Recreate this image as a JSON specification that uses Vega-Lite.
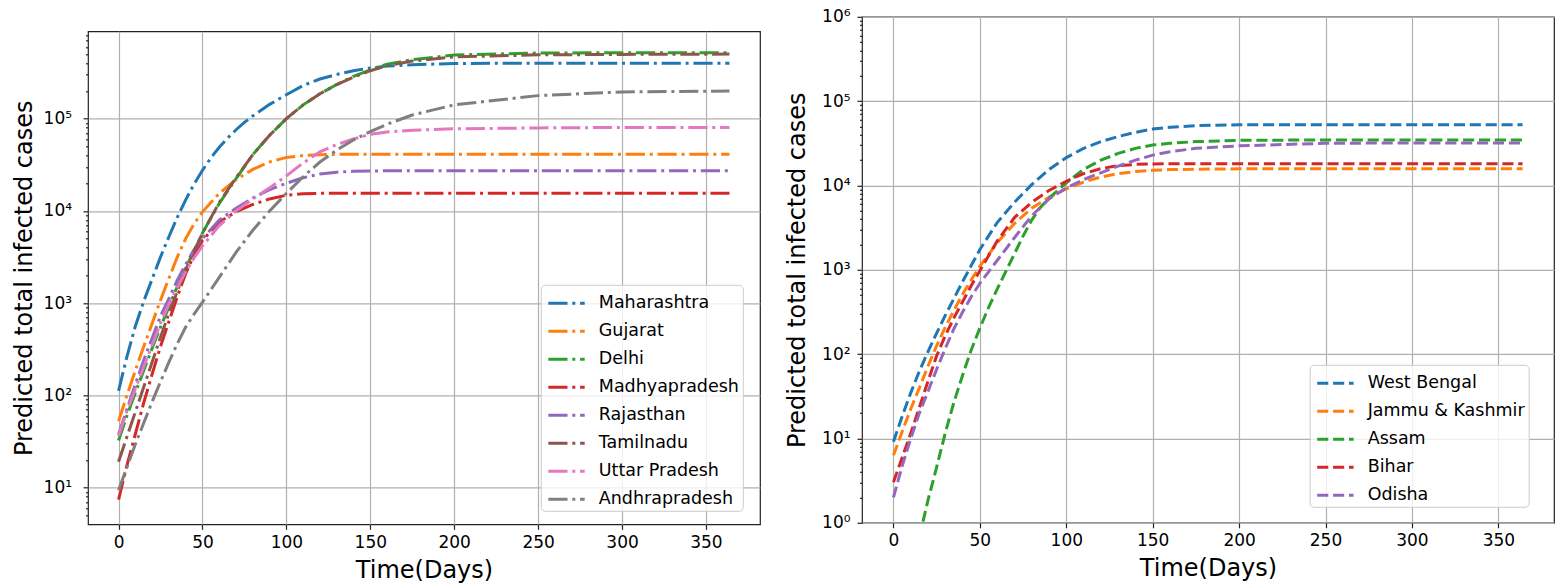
{
  "$schema": "https://vega.github.io/schema/vega-lite/v6.json",
  "background": "white",
  "padding": {"left": 11, "top": 6.8, "right": 0, "bottom": 0},
  "config": {
    "font": "DejaVu Sans",
    "view": {"stroke": "#222", "strokeWidth": 1.2},
    "axis": {"grid": true, "gridColor": "#b0b0b0", "gridWidth": 1.2, "domain": false, "tickColor": "#222", "tickWidth": 1.2, "tickSize": 5, "labelFontSize": 17, "labelFont": "DejaVu Sans", "labelColor": "#000", "titleFontSize": 24, "titleFont": "DejaVu Sans", "titleFontWeight": "normal", "titleColor": "#000"},
    "legend": {"labelFontSize": 17.5, "labelFont": "DejaVu Sans", "labelColor": "#000", "symbolType": "M-1.3,0H1.3", "symbolSize": 784, "symbolStrokeWidth": 3, "padding": 3, "rowPadding": 4, "fillColor": "rgba(255,255,255,0.8)", "strokeColor": "#cccccc", "strokeWidth": 1, "cornerRadius": 4, "symbolOffset": 7.2, "labelOffset": 16.8, "labelLimit": 300}
  },
  "datasets": {
    "L": [
      {"d":0,"s":"Maharashtra","v":112},{"d":5,"s":"Maharashtra","v":263},{"d":10,"s":"Maharashtra","v":562},{"d":15,"s":"Maharashtra","v":1047},{"d":20,"s":"Maharashtra","v":1820},{"d":25,"s":"Maharashtra","v":3162},{"d":30,"s":"Maharashtra","v":5248},{"d":35,"s":"Maharashtra","v":8511},{"d":40,"s":"Maharashtra","v":13183},{"d":45,"s":"Maharashtra","v":19498},{"d":50,"s":"Maharashtra","v":27542},{"d":55,"s":"Maharashtra","v":37584},{"d":60,"s":"Maharashtra","v":48978},{"d":65,"s":"Maharashtra","v":61660},{"d":70,"s":"Maharashtra","v":75858},{"d":75,"s":"Maharashtra","v":91201},{"d":80,"s":"Maharashtra","v":107152},{"d":90,"s":"Maharashtra","v":142889},{"d":100,"s":"Maharashtra","v":181970},{"d":110,"s":"Maharashtra","v":229087},{"d":120,"s":"Maharashtra","v":269153},{"d":130,"s":"Maharashtra","v":301995},{"d":140,"s":"Maharashtra","v":331131},{"d":150,"s":"Maharashtra","v":354813},{"d":160,"s":"Maharashtra","v":371535},{"d":175,"s":"Maharashtra","v":384592},{"d":200,"s":"Maharashtra","v":396278},{"d":250,"s":"Maharashtra","v":399945},{"d":300,"s":"Maharashtra","v":399945},{"d":364,"s":"Maharashtra","v":399945},
      {"d":0,"s":"Gujarat","v":52.5},{"d":5,"s":"Gujarat","v":100},{"d":10,"s":"Gujarat","v":186},{"d":15,"s":"Gujarat","v":339},{"d":20,"s":"Gujarat","v":603},{"d":25,"s":"Gujarat","v":1072},{"d":30,"s":"Gujarat","v":1862},{"d":35,"s":"Gujarat","v":3162},{"d":40,"s":"Gujarat","v":5012},{"d":45,"s":"Gujarat","v":7244},{"d":50,"s":"Gujarat","v":9772},{"d":60,"s":"Gujarat","v":15488},{"d":70,"s":"Gujarat","v":21878},{"d":80,"s":"Gujarat","v":28184},{"d":90,"s":"Gujarat","v":33884},{"d":100,"s":"Gujarat","v":38019},{"d":110,"s":"Gujarat","v":39811},{"d":120,"s":"Gujarat","v":40738},{"d":130,"s":"Gujarat","v":41020},{"d":140,"s":"Gujarat","v":41210},{"d":150,"s":"Gujarat","v":41210},{"d":160,"s":"Gujarat","v":41210},{"d":175,"s":"Gujarat","v":41210},{"d":200,"s":"Gujarat","v":41210},{"d":250,"s":"Gujarat","v":41210},{"d":300,"s":"Gujarat","v":41210},{"d":364,"s":"Gujarat","v":41210},
      {"d":0,"s":"Delhi","v":32.4},{"d":5,"s":"Delhi","v":60.3},{"d":10,"s":"Delhi","v":107},{"d":15,"s":"Delhi","v":186},{"d":20,"s":"Delhi","v":324},{"d":25,"s":"Delhi","v":550},{"d":30,"s":"Delhi","v":912},{"d":35,"s":"Delhi","v":1514},{"d":40,"s":"Delhi","v":2399},{"d":45,"s":"Delhi","v":3715},{"d":50,"s":"Delhi","v":5754},{"d":60,"s":"Delhi","v":12023},{"d":70,"s":"Delhi","v":22387},{"d":80,"s":"Delhi","v":40738},{"d":90,"s":"Delhi","v":66069},{"d":100,"s":"Delhi","v":100000},{"d":110,"s":"Delhi","v":141254},{"d":120,"s":"Delhi","v":186209},{"d":130,"s":"Delhi","v":234423},{"d":140,"s":"Delhi","v":288403},{"d":150,"s":"Delhi","v":338844},{"d":160,"s":"Delhi","v":389045},{"d":175,"s":"Delhi","v":436516},{"d":200,"s":"Delhi","v":489779},{"d":250,"s":"Delhi","v":515229},{"d":300,"s":"Delhi","v":518800},{"d":364,"s":"Delhi","v":518800},
      {"d":0,"s":"Madhyapradesh","v":7.41},{"d":5,"s":"Madhyapradesh","v":17.4},{"d":10,"s":"Madhyapradesh","v":38},{"d":15,"s":"Madhyapradesh","v":83.2},{"d":20,"s":"Madhyapradesh","v":170},{"d":25,"s":"Madhyapradesh","v":339},{"d":30,"s":"Madhyapradesh","v":631},{"d":35,"s":"Madhyapradesh","v":1175},{"d":40,"s":"Madhyapradesh","v":2089},{"d":45,"s":"Madhyapradesh","v":3311},{"d":50,"s":"Madhyapradesh","v":4786},{"d":60,"s":"Madhyapradesh","v":7586},{"d":70,"s":"Madhyapradesh","v":9772},{"d":80,"s":"Madhyapradesh","v":11749},{"d":90,"s":"Madhyapradesh","v":13490},{"d":100,"s":"Madhyapradesh","v":14791},{"d":110,"s":"Madhyapradesh","v":15311},{"d":120,"s":"Madhyapradesh","v":15488},{"d":130,"s":"Madhyapradesh","v":15560},{"d":140,"s":"Madhyapradesh","v":15560},{"d":150,"s":"Madhyapradesh","v":15560},{"d":160,"s":"Madhyapradesh","v":15560},{"d":175,"s":"Madhyapradesh","v":15560},{"d":200,"s":"Madhyapradesh","v":15560},{"d":250,"s":"Madhyapradesh","v":15560},{"d":300,"s":"Madhyapradesh","v":15560},{"d":364,"s":"Madhyapradesh","v":15560},
      {"d":0,"s":"Rajasthan","v":38},{"d":5,"s":"Rajasthan","v":70.8},{"d":10,"s":"Rajasthan","v":132},{"d":15,"s":"Rajasthan","v":240},{"d":20,"s":"Rajasthan","v":417},{"d":25,"s":"Rajasthan","v":724},{"d":30,"s":"Rajasthan","v":1122},{"d":35,"s":"Rajasthan","v":1778},{"d":40,"s":"Rajasthan","v":2630},{"d":45,"s":"Rajasthan","v":3802},{"d":50,"s":"Rajasthan","v":5012},{"d":60,"s":"Rajasthan","v":7943},{"d":70,"s":"Rajasthan","v":10715},{"d":80,"s":"Rajasthan","v":13804},{"d":90,"s":"Rajasthan","v":16982},{"d":100,"s":"Rajasthan","v":19953},{"d":110,"s":"Rajasthan","v":22909},{"d":120,"s":"Rajasthan","v":25119},{"d":130,"s":"Rajasthan","v":26303},{"d":140,"s":"Rajasthan","v":26915},{"d":150,"s":"Rajasthan","v":27102},{"d":160,"s":"Rajasthan","v":27227},{"d":175,"s":"Rajasthan","v":27227},{"d":200,"s":"Rajasthan","v":27227},{"d":250,"s":"Rajasthan","v":27227},{"d":300,"s":"Rajasthan","v":27227},{"d":364,"s":"Rajasthan","v":27227},
      {"d":0,"s":"Tamilnadu","v":19.1},{"d":5,"s":"Tamilnadu","v":35.5},{"d":10,"s":"Tamilnadu","v":66.1},{"d":15,"s":"Tamilnadu","v":123},{"d":20,"s":"Tamilnadu","v":229},{"d":25,"s":"Tamilnadu","v":427},{"d":30,"s":"Tamilnadu","v":776},{"d":35,"s":"Tamilnadu","v":1349},{"d":40,"s":"Tamilnadu","v":2291},{"d":45,"s":"Tamilnadu","v":3631},{"d":50,"s":"Tamilnadu","v":5754},{"d":60,"s":"Tamilnadu","v":12303},{"d":70,"s":"Tamilnadu","v":22909},{"d":80,"s":"Tamilnadu","v":40738},{"d":90,"s":"Tamilnadu","v":66069},{"d":100,"s":"Tamilnadu","v":100000},{"d":110,"s":"Tamilnadu","v":141254},{"d":120,"s":"Tamilnadu","v":186209},{"d":130,"s":"Tamilnadu","v":234423},{"d":140,"s":"Tamilnadu","v":281838},{"d":150,"s":"Tamilnadu","v":331131},{"d":160,"s":"Tamilnadu","v":375837},{"d":175,"s":"Tamilnadu","v":421697},{"d":200,"s":"Tamilnadu","v":467735},{"d":250,"s":"Tamilnadu","v":492040},{"d":300,"s":"Tamilnadu","v":497737},{"d":364,"s":"Tamilnadu","v":501187},
      {"d":0,"s":"Uttar Pradesh","v":36.3},{"d":5,"s":"Uttar Pradesh","v":67.6},{"d":10,"s":"Uttar Pradesh","v":117},{"d":15,"s":"Uttar Pradesh","v":204},{"d":20,"s":"Uttar Pradesh","v":347},{"d":25,"s":"Uttar Pradesh","v":603},{"d":30,"s":"Uttar Pradesh","v":977},{"d":35,"s":"Uttar Pradesh","v":1479},{"d":40,"s":"Uttar Pradesh","v":2188},{"d":45,"s":"Uttar Pradesh","v":3090},{"d":50,"s":"Uttar Pradesh","v":4169},{"d":60,"s":"Uttar Pradesh","v":6918},{"d":70,"s":"Uttar Pradesh","v":10000},{"d":80,"s":"Uttar Pradesh","v":13490},{"d":90,"s":"Uttar Pradesh","v":17783},{"d":100,"s":"Uttar Pradesh","v":23988},{"d":110,"s":"Uttar Pradesh","v":33113},{"d":120,"s":"Uttar Pradesh","v":43652},{"d":130,"s":"Uttar Pradesh","v":52481},{"d":140,"s":"Uttar Pradesh","v":60256},{"d":150,"s":"Uttar Pradesh","v":67608},{"d":160,"s":"Uttar Pradesh","v":71614},{"d":175,"s":"Uttar Pradesh","v":74989},{"d":200,"s":"Uttar Pradesh","v":77625},{"d":250,"s":"Uttar Pradesh","v":79433},{"d":300,"s":"Uttar Pradesh","v":80353},{"d":364,"s":"Uttar Pradesh","v":80353},
      {"d":0,"s":"Andhrapradesh","v":9.33},{"d":5,"s":"Andhrapradesh","v":16.6},{"d":10,"s":"Andhrapradesh","v":29.5},{"d":15,"s":"Andhrapradesh","v":50.1},{"d":20,"s":"Andhrapradesh","v":85.1},{"d":25,"s":"Andhrapradesh","v":141},{"d":30,"s":"Andhrapradesh","v":229},{"d":35,"s":"Andhrapradesh","v":363},{"d":40,"s":"Andhrapradesh","v":550},{"d":45,"s":"Andhrapradesh","v":759},{"d":50,"s":"Andhrapradesh","v":1023},{"d":60,"s":"Andhrapradesh","v":1905},{"d":70,"s":"Andhrapradesh","v":3548},{"d":80,"s":"Andhrapradesh","v":6166},{"d":90,"s":"Andhrapradesh","v":10000},{"d":100,"s":"Andhrapradesh","v":15488},{"d":110,"s":"Andhrapradesh","v":23442},{"d":120,"s":"Andhrapradesh","v":33884},{"d":130,"s":"Andhrapradesh","v":45709},{"d":140,"s":"Andhrapradesh","v":58884},{"d":150,"s":"Andhrapradesh","v":72444},{"d":160,"s":"Andhrapradesh","v":87096},{"d":175,"s":"Andhrapradesh","v":109648},{"d":200,"s":"Andhrapradesh","v":141254},{"d":250,"s":"Andhrapradesh","v":177828},{"d":300,"s":"Andhrapradesh","v":194984},{"d":364,"s":"Andhrapradesh","v":199526}
    ],
    "R": [
      {"d":0,"s":"West Bengal","v":9.12},{"d":5,"s":"West Bengal","v":18.2},{"d":10,"s":"West Bengal","v":34.7},{"d":15,"s":"West Bengal","v":63.1},{"d":20,"s":"West Bengal","v":107},{"d":25,"s":"West Bengal","v":178},{"d":30,"s":"West Bengal","v":288},{"d":35,"s":"West Bengal","v":457},{"d":40,"s":"West Bengal","v":724},{"d":45,"s":"West Bengal","v":1122},{"d":50,"s":"West Bengal","v":1738},{"d":60,"s":"West Bengal","v":3631},{"d":70,"s":"West Bengal","v":6310},{"d":80,"s":"West Bengal","v":10233},{"d":90,"s":"West Bengal","v":15488},{"d":100,"s":"West Bengal","v":21380},{"d":110,"s":"West Bengal","v":27542},{"d":120,"s":"West Bengal","v":33113},{"d":130,"s":"West Bengal","v":38019},{"d":140,"s":"West Bengal","v":42658},{"d":150,"s":"West Bengal","v":46774},{"d":160,"s":"West Bengal","v":48978},{"d":175,"s":"West Bengal","v":51286},{"d":200,"s":"West Bengal","v":52481},{"d":250,"s":"West Bengal","v":52481},{"d":300,"s":"West Bengal","v":52481},{"d":364,"s":"West Bengal","v":52481},
      {"d":0,"s":"Jammu & Kashmir","v":6.31},{"d":5,"s":"Jammu & Kashmir","v":12},{"d":10,"s":"Jammu & Kashmir","v":22.4},{"d":15,"s":"Jammu & Kashmir","v":39.8},{"d":20,"s":"Jammu & Kashmir","v":72.4},{"d":25,"s":"Jammu & Kashmir","v":126},{"d":30,"s":"Jammu & Kashmir","v":209},{"d":35,"s":"Jammu & Kashmir","v":331},{"d":40,"s":"Jammu & Kashmir","v":513},{"d":45,"s":"Jammu & Kashmir","v":759},{"d":50,"s":"Jammu & Kashmir","v":1096},{"d":60,"s":"Jammu & Kashmir","v":2089},{"d":70,"s":"Jammu & Kashmir","v":3548},{"d":80,"s":"Jammu & Kashmir","v":5370},{"d":90,"s":"Jammu & Kashmir","v":7244},{"d":100,"s":"Jammu & Kashmir","v":9120},{"d":110,"s":"Jammu & Kashmir","v":10965},{"d":120,"s":"Jammu & Kashmir","v":12589},{"d":130,"s":"Jammu & Kashmir","v":13804},{"d":140,"s":"Jammu & Kashmir","v":14622},{"d":150,"s":"Jammu & Kashmir","v":15136},{"d":160,"s":"Jammu & Kashmir","v":15417},{"d":175,"s":"Jammu & Kashmir","v":15596},{"d":200,"s":"Jammu & Kashmir","v":15740},{"d":250,"s":"Jammu & Kashmir","v":15740},{"d":300,"s":"Jammu & Kashmir","v":15740},{"d":364,"s":"Jammu & Kashmir","v":15740},
      {"d":15,"s":"Assam","v":0.676},{"d":20,"s":"Assam","v":1.86},{"d":25,"s":"Assam","v":4.57},{"d":30,"s":"Assam","v":11.7},{"d":35,"s":"Assam","v":26.9},{"d":40,"s":"Assam","v":56.2},{"d":45,"s":"Assam","v":112},{"d":50,"s":"Assam","v":204},{"d":55,"s":"Assam","v":355},{"d":60,"s":"Assam","v":589},{"d":65,"s":"Assam","v":955},{"d":70,"s":"Assam","v":1549},{"d":75,"s":"Assam","v":2512},{"d":80,"s":"Assam","v":3890},{"d":85,"s":"Assam","v":5495},{"d":90,"s":"Assam","v":7079},{"d":100,"s":"Assam","v":10715},{"d":110,"s":"Assam","v":15488},{"d":120,"s":"Assam","v":19953},{"d":130,"s":"Assam","v":23988},{"d":140,"s":"Assam","v":27542},{"d":150,"s":"Assam","v":30200},{"d":160,"s":"Assam","v":31623},{"d":175,"s":"Assam","v":33113},{"d":200,"s":"Assam","v":34277},{"d":250,"s":"Assam","v":34674},{"d":300,"s":"Assam","v":34674},{"d":364,"s":"Assam","v":34674},
      {"d":0,"s":"Bihar","v":3.02},{"d":5,"s":"Bihar","v":5.89},{"d":10,"s":"Bihar","v":11.5},{"d":15,"s":"Bihar","v":23.4},{"d":20,"s":"Bihar","v":47.9},{"d":25,"s":"Bihar","v":95.5},{"d":30,"s":"Bihar","v":166},{"d":35,"s":"Bihar","v":269},{"d":40,"s":"Bihar","v":417},{"d":45,"s":"Bihar","v":646},{"d":50,"s":"Bihar","v":977},{"d":60,"s":"Bihar","v":2188},{"d":70,"s":"Bihar","v":4169},{"d":80,"s":"Bihar","v":6310},{"d":90,"s":"Bihar","v":8710},{"d":100,"s":"Bihar","v":11220},{"d":110,"s":"Bihar","v":13804},{"d":120,"s":"Bihar","v":15849},{"d":130,"s":"Bihar","v":17179},{"d":140,"s":"Bihar","v":17783},{"d":150,"s":"Bihar","v":17989},{"d":160,"s":"Bihar","v":18072},{"d":175,"s":"Bihar","v":18072},{"d":200,"s":"Bihar","v":18072},{"d":250,"s":"Bihar","v":18072},{"d":300,"s":"Bihar","v":18072},{"d":364,"s":"Bihar","v":18072},
      {"d":0,"s":"Odisha","v":2.0},{"d":5,"s":"Odisha","v":4.68},{"d":10,"s":"Odisha","v":10},{"d":15,"s":"Odisha","v":20},{"d":20,"s":"Odisha","v":36.3},{"d":25,"s":"Odisha","v":66.1},{"d":30,"s":"Odisha","v":117},{"d":35,"s":"Odisha","v":200},{"d":40,"s":"Odisha","v":316},{"d":45,"s":"Odisha","v":479},{"d":50,"s":"Odisha","v":692},{"d":60,"s":"Odisha","v":1288},{"d":70,"s":"Odisha","v":2399},{"d":80,"s":"Odisha","v":4365},{"d":90,"s":"Odisha","v":6918},{"d":100,"s":"Odisha","v":9333},{"d":110,"s":"Odisha","v":11749},{"d":120,"s":"Odisha","v":14125},{"d":130,"s":"Odisha","v":16982},{"d":140,"s":"Odisha","v":19953},{"d":150,"s":"Odisha","v":22909},{"d":160,"s":"Odisha","v":25119},{"d":175,"s":"Odisha","v":27542},{"d":200,"s":"Odisha","v":29512},{"d":250,"s":"Odisha","v":31623},{"d":300,"s":"Odisha","v":31989},{"d":364,"s":"Odisha","v":31989}
    ]
  },
  "spacing": 24,
  "hconcat": [
    {
      "spacing": 4.5,
      "vconcat": [
        {"width": 10, "height": 1, "data": {"values": [{"a": 1}]}, "mark": {"type": "point", "opacity": 0}, "view": {"stroke": null}},
        {
          "width": 672,
          "height": 493,
          "data": {"name": "L"},
          "mark": {"type": "line", "strokeWidth": 3, "strokeDash": [19.2, 4.8, 3, 4.8], "clip": true},
          "encoding": {
            "x": {"field": "d", "type": "quantitative", "scale": {"domain": [-18.2, 382.2], "nice": false, "zero": false},
                  "axis": {"values": [0, 50, 100, 150, 200, 250, 300, 350], "title": "Time(Days)", "labelPadding": 5, "titlePadding": 8}},
            "y": {"field": "v", "type": "quantitative", "scale": {"type": "log", "domain": [4, 886000], "nice": false},
                  "axis": {"title": "Predicted total infected cases", "labelPadding": 11.5, "titlePadding": 6.6, "labelOverlap": false,
                           "values": [5,6,7,8,9,10,20,30,40,50,60,70,80,90,100,200,300,400,500,600,700,800,900,1000,2000,3000,4000,5000,6000,7000,8000,9000,10000,20000,30000,40000,50000,60000,70000,80000,90000,100000,200000,300000,400000,500000,600000,700000,800000],
                           "labelExpr": "indexof([1,10,100,1000,10000,100000,1000000], datum.value) >= 0 ? ['10⁰','10¹','10²','10³','10⁴','10⁵','10⁶'][indexof([1,10,100,1000,10000,100000,1000000], datum.value)] : ''",
                           "tickSize": {"condition": {"test": "indexof([1,10,100,1000,10000,100000,1000000], datum.value) >= 0", "value": 5}, "value": 2.5},
                           "gridOpacity": {"condition": {"test": "indexof([1,10,100,1000,10000,100000,1000000], datum.value) >= 0", "value": 1}, "value": 0}}},
            "color": {"field": "s", "type": "nominal",
                      "scale": {"domain": ["Maharashtra", "Gujarat", "Delhi", "Madhyapradesh", "Rajasthan", "Tamilnadu", "Uttar Pradesh", "Andhrapradesh"],
                                "range": ["#1f77b4", "#ff7f0e", "#2ca02c", "#d62728", "#9467bd", "#8c564b", "#e377c2", "#7f7f7f"]},
                      "legend": {"orient": "none", "legendX": 452.8, "legendY": 268, "title": null, "symbolDash": [19.2, 4.8, 3, 4.8]}}
          }
        }
      ]
    },
    {
      "width": 692,
      "height": 506,
      "data": {"name": "R"},
      "mark": {"type": "line", "strokeWidth": 3, "strokeDash": [11.1, 4.8], "clip": true},
      "encoding": {
        "x": {"field": "d", "type": "quantitative", "scale": {"domain": [-18.2, 382.2], "nice": false, "zero": false},
              "axis": {"values": [0, 50, 100, 150, 200, 250, 300, 350], "title": "Time(Days)", "labelPadding": 5, "titlePadding": 8}},
        "y": {"field": "v", "type": "quantitative", "scale": {"type": "log", "domain": [1, 1000000], "nice": false},
              "axis": {"title": "Predicted total infected cases", "labelPadding": 7, "titlePadding": 11.6, "labelOverlap": false,
                       "values": [1,2,3,4,5,6,7,8,9,10,20,30,40,50,60,70,80,90,100,200,300,400,500,600,700,800,900,1000,2000,3000,4000,5000,6000,7000,8000,9000,10000,20000,30000,40000,50000,60000,70000,80000,90000,100000,200000,300000,400000,500000,600000,700000,800000,900000,1000000],
                       "labelExpr": "indexof([1,10,100,1000,10000,100000,1000000], datum.value) >= 0 ? ['10⁰','10¹','10²','10³','10⁴','10⁵','10⁶'][indexof([1,10,100,1000,10000,100000,1000000], datum.value)] : ''",
                       "tickSize": {"condition": {"test": "indexof([1,10,100,1000,10000,100000,1000000], datum.value) >= 0", "value": 5}, "value": 2.5},
                       "gridOpacity": {"condition": {"test": "indexof([1,10,100,1000,10000,100000,1000000], datum.value) >= 0", "value": 1}, "value": 0}}},
        "color": {"field": "s", "type": "nominal",
                  "scale": {"domain": ["West Bengal", "Jammu & Kashmir", "Assam", "Bihar", "Odisha"],
                            "range": ["#1f77b4", "#ff7f0e", "#2ca02c", "#d62728", "#9467bd"]},
                  "legend": {"orient": "none", "legendX": 447.7, "legendY": 348, "title": null, "symbolDash": [11.1, 4.8]}}
      }
    }
  ],
  "resolve": {"scale": {"color": "independent", "x": "independent", "y": "independent"}}
}
